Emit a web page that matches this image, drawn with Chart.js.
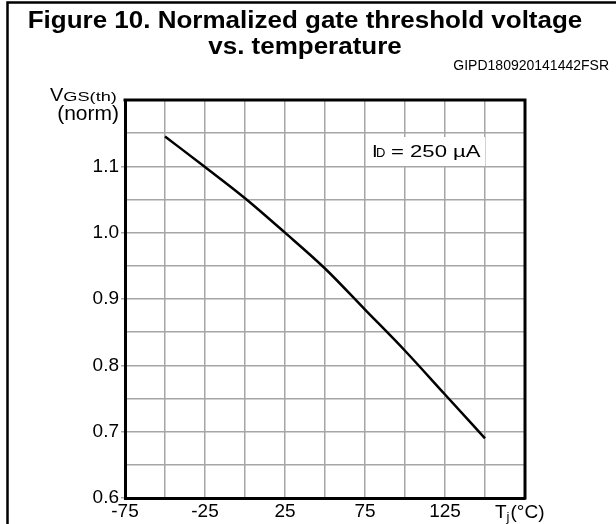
<!DOCTYPE html>
<html lang="en">
<head>
  <meta charset="UTF-8">
  <title>Normalized gate threshold voltage vs. temperature</title>
  <script src="https://cdn.jsdelivr.net/npm/chart.js"></script>
  <style>
    body { margin: 0; padding: 0; background: #fff; }
    #wrap { width: 616px; height: 524px; }
  </style>
</head>
<body>
  <div id="wrap"><canvas id="vgsChart" width="616" height="524"></canvas></div>

  <script>
    // Tj in °C and normalized VGS(th)
    const temps = [-50, -25, 0, 25, 50, 75, 100, 125, 150];
    const vgsNorm = [1.145, 1.099, 1.052, 1.0, 0.946, 0.884, 0.822, 0.756, 0.69];

    const xLabels = [-75, -25, 25, 75, 125];
    const yLabels = [0.6, 0.7, 0.8, 0.9, 1.0, 1.1];

    const FONT = "'Liberation Sans', Arial, sans-serif";

    function isLabel(list, v) {
      return list.some(l => Math.abs(l - v) < 1e-6);
    }

    // text in the original is a bit wider than Arial, so allow a horizontal stretch
    function text(ctx, str, x, y, font, align, sx) {
      ctx.save();
      ctx.font = font;
      ctx.textAlign = align || 'left';
      ctx.textBaseline = 'alphabetic';
      ctx.translate(x, y);
      ctx.scale(sx || 1, 1);
      ctx.fillText(str, 0, 0);
      const w = ctx.measureText(str).width * (sx || 1);
      ctx.restore();
      return w;
    }

    const decorations = {
      id: 'decorations',
      beforeDatasetsDraw(chart) {
        const ctx = chart.ctx;
        // white box behind the test condition
        ctx.save();
        ctx.fillStyle = '#fff';
        ctx.fillRect(366, 137, 119, 29);
        ctx.restore();
      },
      afterDraw(chart) {
        const ctx = chart.ctx;
        const a = chart.chartArea;
        ctx.save();

        // outer frame (left + top)
        ctx.strokeStyle = '#000';
        ctx.lineWidth = 2.5;
        ctx.beginPath();
        ctx.moveTo(7.5, 524);
        ctx.lineTo(7.5, 2.5);
        ctx.lineTo(616, 2.5);
        ctx.stroke();

        // top and right of plot box
        ctx.lineWidth = 3;
        ctx.beginPath();
        ctx.moveTo(a.left - 1.5, a.top);
        ctx.lineTo(a.right, a.top);
        ctx.lineTo(a.right, a.bottom + 1.5);
        ctx.stroke();

        ctx.fillStyle = '#000';

        // title
        text(ctx, 'Figure 10. Normalized gate threshold voltage', 305, 28, 'bold 23px ' + FONT, 'center', 1.13);
        text(ctx, 'vs. temperature', 305, 54, 'bold 23px ' + FONT, 'center', 1.13);

        // figure code
        text(ctx, 'GIPD180920141442FSR', 609, 70, '14px ' + FONT, 'right');

        // y axis title: VGS(th) (norm)
        let w = text(ctx, 'V', 50, 101, '19px ' + FONT, 'left', 1.05);
        text(ctx, 'GS(th)', 50 + w, 101, '13px ' + FONT, 'left', 1.4);
        text(ctx, '(norm)', 119, 120, '20px ' + FONT, 'right', 1.05);

        // x axis title: Tj(°C)
        w = text(ctx, 'T', 495, 518, '19px ' + FONT, 'left');
        w += text(ctx, 'j', 495 + w, 521, '13px ' + FONT, 'left');
        text(ctx, '(°C)', 496 + w, 518, '19px ' + FONT, 'left');

        // test condition: ID = 250 µA
        text(ctx, 'I', 372, 157, '17px ' + FONT, 'left', 1.2);
        text(ctx, 'D', 376, 157, '13px ' + FONT, 'left', 1.0);
        text(ctx, '= 250 µA', 391, 157, '17px ' + FONT, 'left', 1.3);

        ctx.restore();
      }
    };

    new Chart(document.getElementById('vgsChart'), {
      type: 'line',
      data: {
        datasets: [{
          data: temps.map((t, i) => ({ x: t, y: vgsNorm[i] })),
          borderColor: '#000',
          borderWidth: 2.5,
          pointRadius: 0,
          cubicInterpolationMode: 'monotone',
          fill: false
        }]
      },
      options: {
        responsive: false,
        animation: false,
        layout: { padding: { left: 0, top: 100, right: 91, bottom: 0 } },
        plugins: {
          legend: { display: false },
          tooltip: { enabled: false }
        },
        scales: {
          x: {
            type: 'linear',
            min: -75,
            max: 175,
            afterFit: s => { s.height = 26; },
            border: { color: '#000', width: 3 },
            grid: { color: '#a6a6a6', lineWidth: 1.5, drawTicks: false },
            ticks: {
              stepSize: 25,
              padding: 2,
              color: '#000',
              font: { family: FONT, size: 19 },
              maxRotation: 0,
              autoSkip: false,
              callback: v => isLabel(xLabels, v) ? String(v) : ''
            }
          },
          y: {
            min: 0.6,
            max: 1.2,
            afterFit: s => { s.width = 125; },
            border: { color: '#000', width: 3 },
            grid: {
              color: '#a6a6a6',
              lineWidth: 1.5,
              drawTicks: true,
              tickLength: 4,
              tickColor: c => isLabel(yLabels, c.tick.value) ? '#a6a6a6' : 'rgba(0,0,0,0)'
            },
            ticks: {
              stepSize: 0.05,
              padding: 2,
              color: '#000',
              font: { family: FONT, size: 19 },
              autoSkip: false,
              callback: v => isLabel(yLabels, v) ? v.toFixed(1) : ''
            }
          }
        }
      },
      plugins: [decorations]
    });
  </script>
</body>
</html>
